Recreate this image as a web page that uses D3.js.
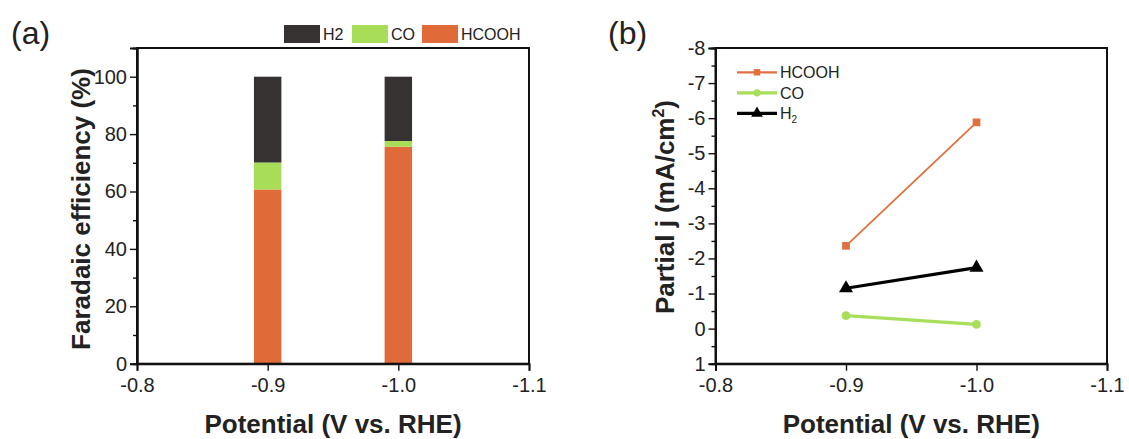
<!DOCTYPE html>
<html lang="en">
<head>
<meta charset="utf-8">
<title>Faradaic efficiency and partial current</title>
<script src="https://d3js.org/d3.v7.min.js"></script>
<style>
  body { margin: 0; background: #fff; }
  text { font-family: Arial, "Liberation Sans", sans-serif; fill: #222; }
</style>
</head>
<body>
<div id="chart"></div>
<script>
// data
var potentials = [-0.9, -1.0];
var feHCOOH = [60.7, 75.6];
var feCO = [9.4, 2.0];
var feH2 = [29.9, 22.4];

var jHCOOH = [-2.36, -5.88];
var jCO = [-0.37, -0.12];
var jH2 = [-1.15, -1.74];

var xTicks = [-0.8, -0.9, -1.0, -1.1];
var feTicks = [0, 20, 40, 60, 80, 100];
var feMinor = [10, 30, 50, 70, 90];
var jTicks = [1, 0, -1, -2, -3, -4, -5, -6, -7, -8];
var jMinor = [0.5, -0.5, -1.5, -2.5, -3.5, -4.5, -5.5, -6.5, -7.5];

var colH2 = "#363232", colCO = "#a8dd58", colHCOOH = "#e06b39";

var W = 1129, H = 439;
var svg = d3.select("#chart").append("svg").attr("width", W).attr("height", H);

// hyphen instead of unicode minus, like the original
function fmtX(d) { return d3.format(".1f")(d).replace("\u2212", "-"); }
function fmtJ(d) { return d3.format("d")(d).replace("\u2212", "-"); }

var top0 = 48, bot0 = 363.7;

// ---------- panel (a) ----------
var aL = 137, aR = 529;
var ax = d3.scaleLinear().domain([-0.8, -1.1]).range([aL, aR]);
var ay = d3.scaleLinear().domain([0, 110]).range([bot0, top0]);

var ga = svg.append("g");
var barW = ax(-0.9 - 0.021) - ax(-0.9);

var stacks = [
  { name: "HCOOH", vals: feHCOOH, color: colHCOOH },
  { name: "CO", vals: feCO, color: colCO },
  { name: "H2", vals: feH2, color: colH2 }
];
potentials.forEach(function(p, i) {
  var base = 0;
  stacks.forEach(function(s) {
    var v = s.vals[i];
    ga.append("rect")
      .attr("x", ax(p) - barW / 2)
      .attr("y", ay(base + v))
      .attr("width", barW)
      .attr("height", ay(base) - ay(base + v))
      .attr("fill", s.color);
    base += v;
  });
});

ga.append("rect").attr("x", aL).attr("y", top0).attr("width", aR - aL).attr("height", bot0 - top0)
  .attr("fill", "none").attr("stroke", "#111").attr("stroke-width", 2);

ga.append("g").attr("transform", "translate(" + aL + ",0)")
  .call(d3.axisLeft(ay).tickValues(feTicks).tickSize(7).tickPadding(3));
ga.append("g").attr("transform", "translate(" + aL + ",0)")
  .call(d3.axisLeft(ay).tickValues(feMinor).tickSize(4).tickFormat(""));
ga.append("g").attr("transform", "translate(0," + bot0 + ")")
  .call(d3.axisBottom(ax).tickValues(xTicks).tickSize(7).tickPadding(7).tickFormat(fmtX));

// legend (a)
var legA = [{ n: "H2", c: colH2, x: 284 }, { n: "CO", c: colCO, x: 352 }, { n: "HCOOH", c: colHCOOH, x: 422 }];
legA.forEach(function(l) {
  ga.append("rect").attr("x", l.x).attr("y", 25).attr("width", 36).attr("height", 18).attr("fill", l.c);
  ga.append("text").attr("x", l.x + 39).attr("y", 40).style("font-size", "16px").text(l.n);
});

ga.append("text").attr("x", 11).attr("y", 44).style("font-size", "32px").text("(a)");
ga.append("text").attr("transform", "translate(90,209) rotate(-90)").attr("text-anchor", "middle")
  .style("font-size", "26px").style("font-weight", "bold").text("Faradaic efficiency (%)");
ga.append("text").attr("x", (aL + aR) / 2).attr("y", 433).attr("text-anchor", "middle")
  .style("font-size", "26px").style("font-weight", "bold").text("Potential (V vs. RHE)");

// ---------- panel (b) ----------
var bL = 715.5, bR = 1107;
var bx = d3.scaleLinear().domain([-0.8, -1.1]).range([bL, bR]);
var by = d3.scaleLinear().domain([1, -8]).range([bot0, top0]);

var gb = svg.append("g");
gb.append("rect").attr("x", bL).attr("y", top0).attr("width", bR - bL).attr("height", bot0 - top0)
  .attr("fill", "none").attr("stroke", "#111").attr("stroke-width", 2);

gb.append("g").attr("transform", "translate(" + bL + ",0)")
  .call(d3.axisLeft(by).tickValues(jTicks).tickSize(7).tickPadding(3).tickFormat(fmtJ));
gb.append("g").attr("transform", "translate(" + bL + ",0)")
  .call(d3.axisLeft(by).tickValues(jMinor).tickSize(4).tickFormat(""));
gb.append("g").attr("transform", "translate(0," + bot0 + ")")
  .call(d3.axisBottom(bx).tickValues(xTicks).tickSize(7).tickPadding(7).tickFormat(fmtX));

var series = [
  { name: "HCOOH", vals: jHCOOH, color: "#e07040", width: 1.8, sym: d3.symbolSquare, size: 60 },
  { name: "CO", vals: jCO, color: "#a8de5a", width: 3.2, sym: d3.symbolCircle, size: 60 },
  { name: "H2", vals: jH2, color: "#000", width: 3.2, sym: d3.symbolTriangle, size: 85 }
];
var line = d3.line().x(function(d) { return bx(d[0]); }).y(function(d) { return by(d[1]); });
series.forEach(function(s) {
  var pts = potentials.map(function(p, i) { return [p, s.vals[i]]; });
  gb.append("path").attr("d", line(pts)).attr("fill", "none").attr("stroke", s.color).attr("stroke-width", s.width);
  gb.selectAll(null).data(pts).enter().append("path")
    .attr("transform", function(d) { return "translate(" + bx(d[0]) + "," + by(d[1]) + ")"; })
    .attr("d", d3.symbol().type(s.sym).size(s.size)())
    .attr("fill", s.color);
});

// legend (b)
series.forEach(function(s, i) {
  var y = 72.3 + i * 20.5;
  gb.append("line").attr("x1", 737).attr("x2", 777).attr("y1", y).attr("y2", y)
    .attr("stroke", s.color).attr("stroke-width", s.width < 2 ? 2.2 : 3.2);
  gb.append("path").attr("transform", "translate(757," + y + ")")
    .attr("d", d3.symbol().type(s.sym).size(s.size * 0.7)()).attr("fill", s.color);
  var t = gb.append("text").attr("x", 780).attr("y", y + 6).style("font-size", "16px");
  if (s.name === "H2") {
    t.text("H");
    t.append("tspan").attr("dy", 4).style("font-size", "10px").text("2");
  } else {
    t.text(s.name);
  }
});

gb.append("text").attr("x", 608).attr("y", 44).style("font-size", "32px").text("(b)");
var yl = gb.append("text").attr("transform", "translate(674,207) rotate(-90)").attr("text-anchor", "middle")
  .style("font-size", "26px").style("font-weight", "bold");
yl.append("tspan").text("Partial j (mA/cm");
yl.append("tspan").attr("dy", -10).style("font-size", "16px").text("2");
yl.append("tspan").attr("dy", 10).text(")");
gb.append("text").attr("x", (bL + bR) / 2).attr("y", 433).attr("text-anchor", "middle")
  .style("font-size", "26px").style("font-weight", "bold").text("Potential (V vs. RHE)");

// axis styling
svg.selectAll(".domain").attr("stroke", "#111").attr("stroke-width", 2);
svg.selectAll(".tick line").attr("stroke", "#111").attr("stroke-width", 1.4);
svg.selectAll(".tick text").style("font-size", "20px").attr("fill", "#222")
  .style("font-family", "Arial, 'Liberation Sans', sans-serif");
</script>
</body>
</html>
